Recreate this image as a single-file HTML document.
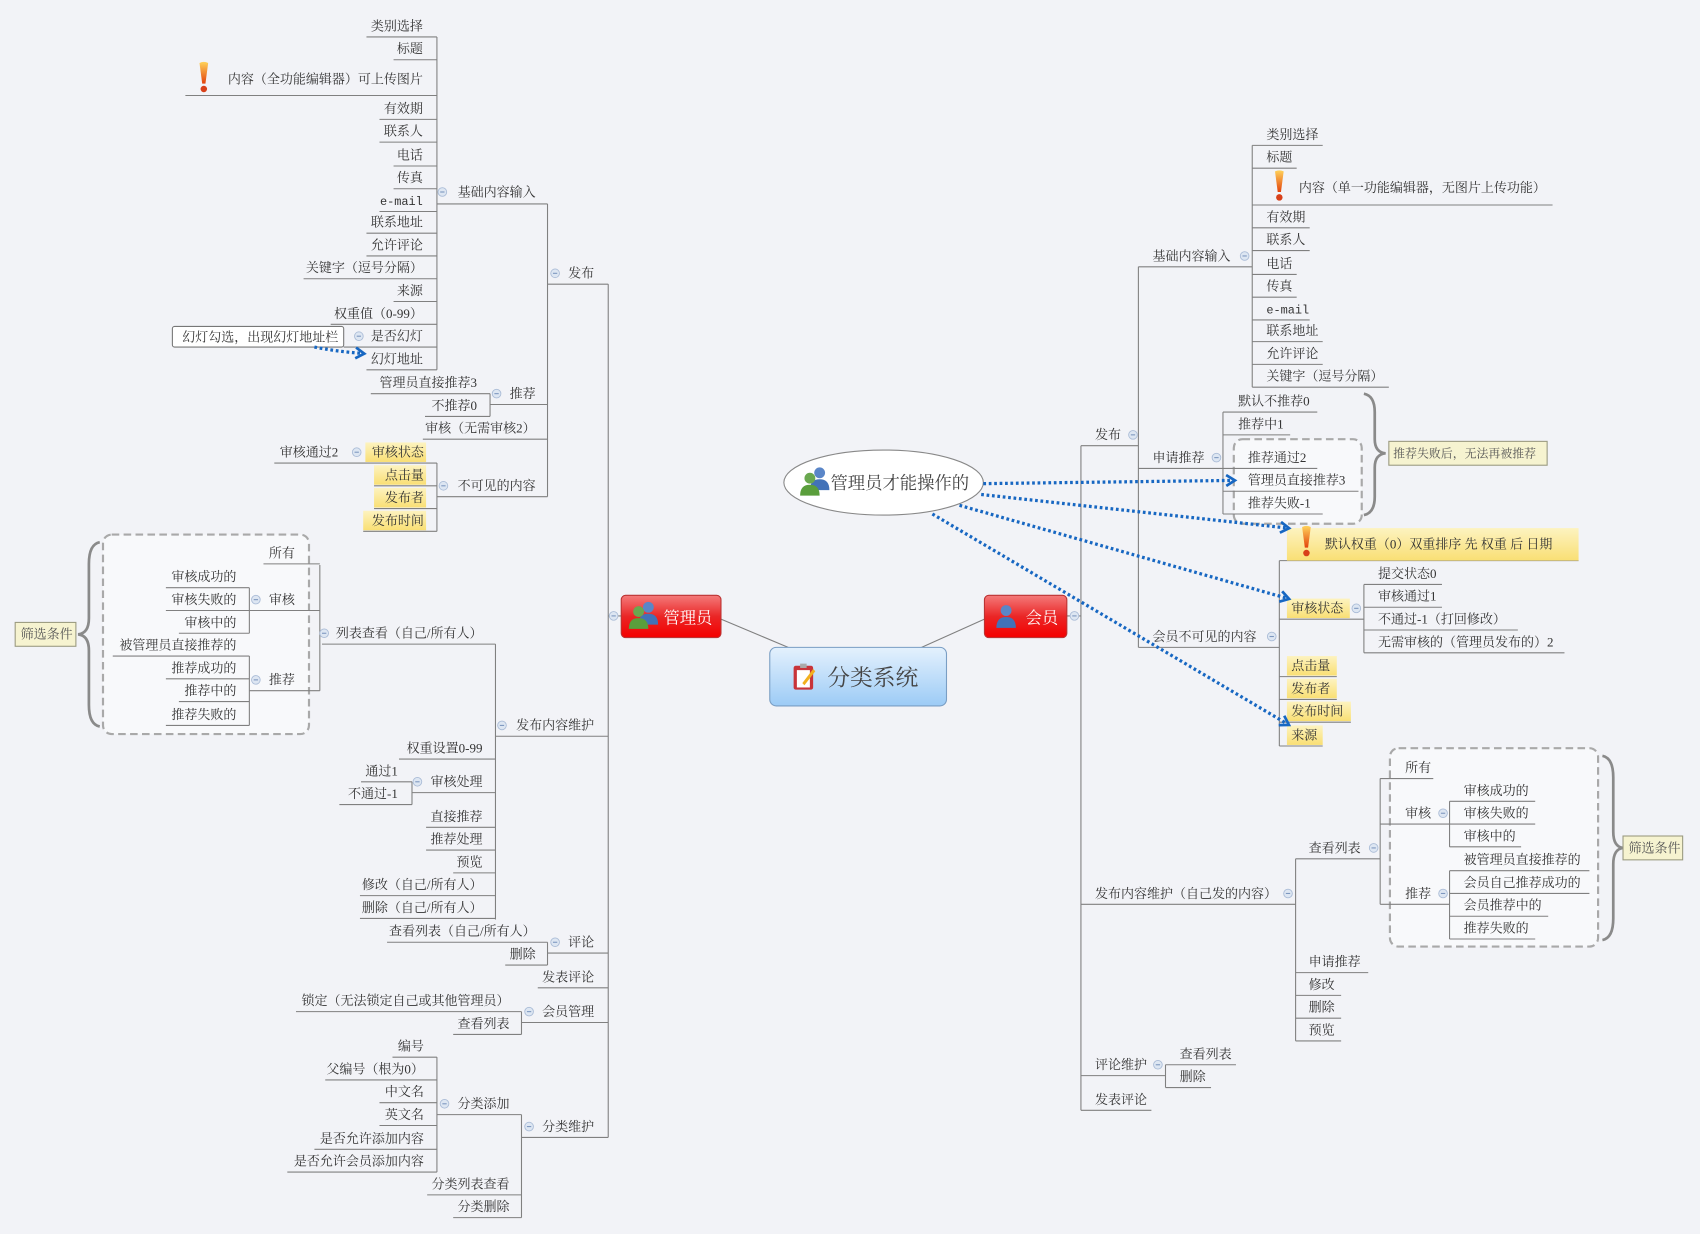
<!DOCTYPE html>
<html><head><meta charset="utf-8"><style>
html,body{margin:0;padding:0;background:#f2f3f7;}
svg{display:block}
text{font-family:"Liberation Serif","Noto Serif CJK SC","Noto Sans CJK SC",serif;font-size:12px;fill:#333}
.e{text-anchor:end}
</style></head><body>
<svg width="1700" height="1234" viewBox="0 0 1568 1138" xmlns="http://www.w3.org/2000/svg">
<defs>
<linearGradient id="red" x1="0" y1="0" x2="0" y2="1"><stop offset="0" stop-color="#f47a7a"/><stop offset="0.5" stop-color="#ea2626"/><stop offset="1" stop-color="#f40000"/></linearGradient>
<linearGradient id="blue" x1="0" y1="0" x2="0" y2="1"><stop offset="0" stop-color="#e4f1fd"/><stop offset="1" stop-color="#9ccbf6"/></linearGradient>
<linearGradient id="yel" x1="0" y1="0" x2="0" y2="1"><stop offset="0" stop-color="#fdf3c0"/><stop offset="1" stop-color="#f9df74"/></linearGradient>
<linearGradient id="ex" x1="0" y1="0" x2="0" y2="1"><stop offset="0" stop-color="#ffd25a"/><stop offset="1" stop-color="#e3420c"/></linearGradient>
<g id="excl"><path d="M-4 -14 Q0 -16 4 -14 L1.5 5 L-1.5 5 Z" fill="url(#ex)"/><circle cx="0" cy="10" r="3" fill="#d8401a"/></g>
<g id="col"><circle r="4" fill="#dde6f2" stroke="#a9bbd6" stroke-width="0.8"/><line x1="-2" y1="0" x2="2" y2="0" stroke="#7d97bf" stroke-width="1"/></g>
<g id="p1"><circle cx="0" cy="-6" r="5" fill="#6aa84f"/><path d="M-9 10 Q-9 0 0 0 Q9 0 9 10 Z" fill="#5a9e3c"/></g>
<g id="p2"><circle cx="0" cy="-6" r="5" fill="#5a86c8"/><path d="M-9 10 Q-9 0 0 0 Q9 0 9 10 Z" fill="#4272b8"/></g>
<marker id="arr" markerWidth="12" markerHeight="12" refX="8" refY="6" orient="auto" markerUnits="userSpaceOnUse"><path d="M1 1 L9 6 L1 11" fill="none" stroke="#1767c2" stroke-width="2.5"/></marker>
</defs>

<rect x="95" y="493" width="190" height="184" rx="8" fill="#f8f9fb" stroke="#a9a9a9" stroke-width="2" stroke-dasharray="7,4"/>
<rect x="1282" y="690" width="192" height="183" rx="8" fill="#f8f9fb" stroke="#a9a9a9" stroke-width="2" stroke-dasharray="7,4"/>
<rect x="1138" y="405" width="118" height="78" rx="8" fill="#f8f9fb" stroke="#a9a9a9" stroke-width="2" stroke-dasharray="7,4"/>

<g fill="none" stroke="#8a8a8a" stroke-width="2.5">
<path d="M92 500 Q82 502 82 520 L82 570 Q82 584 72 585 Q82 586 82 600 L82 650 Q82 668 92 670"/>
<path d="M1478 697 Q1488 699 1488 717 L1488 767 Q1488 781 1497 782 Q1488 783 1488 797 L1488 847 Q1488 865 1478 867"/>
<path d="M1258 363 Q1268 365 1268 380 L1268 405 Q1268 417 1278 418 Q1268 419 1268 431 L1268 458 Q1268 473 1258 475"/>
</g>

<g fill="none" stroke="#808080" stroke-width="1">
<path d="M665 571 L727 597 M908 571 L850 597"/>
<path d="M561 262 V1049 M561 568 H573 M505 262 H561 M505 188 V458 M403 188 H505 M403 34 V341
M338 34 H403 M363 55 H403 M171 88 H403 M350 110 H403 M350 131 H403 M363 153 H403 M363 174 H403 M350 195 H403 M338 215 H403 M338 236 H403 M280 257 H403 M363 278 H403 M305 299 H403 M317 320 H403 M338 341 H403
M452 373 H505 M452 363 V384 M342 363 H452 M392 384 H452 M390 405 H505
M403 458 H505 M403 427 V490 M253 427 H403 M345 448 H403 M345 469 H403 M335 490 H403
M457 679 H561 M457 594 V848 M297 594 H457 M295 521 V637 M243 520 H295 M230 563 H295 M230 542 V584 M153 542 H230 M153 563 H230 M165 584 H230
M230 637 H295 M230 605 V669 M104 605 H230 M153 626 H230 M165 647 H230 M153 669 H230
M368 700 H457 M380 731 H457 M380 721 V742 M333 721 H380 M313 742 H380
M393 763 H457 M393 784 H457 M418 805 H457 M332 826 H457 M332 847 H457
M505 879 H561 M505 869 V890 M357 869 H505 M466 890 H505 M496 911 H561
M481 943 H561 M481 933 V954 M273 933 H481 M418 954 H481
M481 1049 H561 M481 1028 V1123 M403 1028 H481 M403 975 V1081
M362 975 H403 M300 996 H403 M350 1017 H403 M350 1038 H403 M290 1060 H403 M265 1081 H403 M394 1102 H481 M418 1123 H481"/>
<path d="M997 411 V1024 M984 568 H997 M997 411 H1050 M1050 246 V597 M1050 246 H1155 M1155 134 V357
M1155 134 H1220 M1155 155 H1196 M1155 189 H1432 M1155 210 H1208 M1155 231 H1208 M1155 253 H1196 M1155 274 H1196 M1155 295 H1208 M1155 315 H1220 M1155 336 H1220 M1155 357 H1281
M1050 432 H1128 M1128 380 V474 M1128 380 H1215 M1128 401 H1190 M1128 432 H1215 M1128 453 H1253 M1128 474 H1220
M1050 597 H1180 M1180 517 V688 M1180 517 H1456 M1180 571 H1258 M1258 539 V602 M1258 539 H1330 M1258 560 H1330 M1258 581 H1400 M1258 602 H1443
M1180 624 H1233 M1180 645 H1233 M1180 666 H1246 M1180 688 H1220
M997 834 H1195 M1195 792 V960 M1195 792 H1273 M1273 718 V834 M1273 718 H1322 M1273 760 H1337 M1337 739 V781 M1337 739 H1416 M1337 760 H1416 M1337 781 H1403
M1273 834 H1337 M1337 803 V866 M1337 803 H1466 M1337 824 H1466 M1337 845 H1428 M1337 866 H1416
M1195 897 H1262 M1195 918 H1237 M1195 939 H1237 M1195 960 H1237
M997 992 H1075 M1075 982 V1003 M1075 982 H1140 M1075 1003 H1117 M997 1024 H1062"/>
</g>

<g fill="url(#yel)">
<rect x="337" y="408" width="56" height="18"/><rect x="345" y="429" width="48" height="18"/><rect x="345" y="450" width="48" height="18"/><rect x="335" y="471" width="58" height="18"/>
<rect x="1187" y="487" width="269" height="30"/>
<rect x="1187" y="552" width="58" height="18"/><rect x="1187" y="605" width="46" height="18"/><rect x="1187" y="626" width="46" height="18"/><rect x="1187" y="647" width="59" height="18"/><rect x="1187" y="669" width="33" height="18"/>
</g>

<rect x="159" y="301" width="158" height="19" rx="2" fill="#fff" stroke="#777"/>
<rect x="14" y="574" width="56" height="22" fill="#f6f3d0" stroke="#9a9a80"/>
<rect x="1497" y="771" width="55" height="22" fill="#f6f3d0" stroke="#9a9a80"/>
<rect x="1281" y="407" width="146" height="22" fill="#f6f3d0" stroke="#9a9a80"/>

<rect x="573" y="549" width="92" height="39" rx="4" fill="url(#red)" stroke="#b33" />
<rect x="908" y="549" width="76" height="39" rx="4" fill="url(#red)" stroke="#b33"/>
<rect x="710" y="597" width="163" height="54" rx="6" fill="url(#blue)" stroke="#7a9ec4"/>
<ellipse cx="815" cy="445" rx="92" ry="30" fill="#fff" stroke="#888"/>
<use href="#p2" x="598" y="566"/><use href="#p1" x="589" y="570"/>
<use href="#p2" x="928" y="569"/>
<use href="#p2" x="756" y="442"/><use href="#p1" x="747" y="447"/>
<g transform="translate(742,625)"><rect x="-10" y="-11" width="18" height="22" rx="2" fill="#c8343a"/><rect x="-7" y="-7" width="12" height="16" fill="#fff"/><rect x="-4" y="-13" width="6" height="4" fill="#aaa"/><path d="M-2 5 L8 -8 L10 -6 L0 7 Z" fill="#f2b01e"/></g>
<text x="612" y="575" style="font-size:15px;fill:#fff">管理员</text>
<text x="946" y="575" style="font-size:15px;fill:#fff">会员</text>
<text x="763" y="632" style="font-size:21px;fill:#444">分类系统</text>
<text x="766" y="451" style="font-size:16px;fill:#444">管理员才能操作的</text>

<use href="#excl" x="188" y="72"/><use href="#excl" x="1180" y="172"/><use href="#excl" x="1205" y="500"/>

<use href="#col" x="566" y="568"/><use href="#col" x="512" y="252"/><use href="#col" x="408" y="177"/><use href="#col" x="458" y="363"/><use href="#col" x="409" y="448"/><use href="#col" x="331" y="310"/><use href="#col" x="329" y="417"/><use href="#col" x="463" y="669"/><use href="#col" x="299" y="584"/><use href="#col" x="236" y="553"/><use href="#col" x="236" y="627"/><use href="#col" x="385" y="721"/><use href="#col" x="512" y="869"/><use href="#col" x="488" y="933"/><use href="#col" x="488" y="1039"/><use href="#col" x="410" y="1018"/>
<use href="#col" x="991" y="568"/><use href="#col" x="1045" y="401"/><use href="#col" x="1148" y="236"/><use href="#col" x="1122" y="422"/><use href="#col" x="1173" y="587"/><use href="#col" x="1251" y="561"/><use href="#col" x="1188" y="824"/><use href="#col" x="1267" y="782"/><use href="#col" x="1331" y="750"/><use href="#col" x="1331" y="824"/><use href="#col" x="1068" y="982"/>

<g fill="none" stroke="#1767c2" stroke-width="3" stroke-dasharray="2.5,2.5" marker-end="url(#arr)">
<path d="M907 446 L1138 443"/>
<path d="M905 456 L1188 487"/>
<path d="M885 466 L1188 552"/>
<path d="M860 474 L1188 668"/>
<path d="M290 320 Q310 324 335 326"/>
</g>

<g class="e">
<text class="e" x="548" y="256">发布</text>
<text class="e" x="494" y="181">基础内容输入</text>
<text class="e" x="390" y="28">类别选择</text>
<text class="e" x="390" y="49">标题</text>
<text class="e" x="390" y="77">内容（全功能编辑器）可上传图片</text>
<text class="e" x="390" y="104">有效期</text>
<text class="e" x="390" y="125">联系人</text>
<text class="e" x="390" y="147">电话</text>
<text class="e" x="390" y="168">传真</text>
<text class="e" x="390" y="189" style="font-family:'Liberation Mono',monospace;font-size:11px">e-mail</text>
<text class="e" x="390" y="209">联系地址</text>
<text class="e" x="390" y="230">允许评论</text>
<text class="e" x="390" y="251">关键字（逗号分隔）</text>
<text class="e" x="390" y="272">来源</text>
<text class="e" x="390" y="293">权重值（0-99）</text>
<text class="e" x="390" y="314">是否幻灯</text>
<text class="e" x="390" y="335">幻灯地址</text>
<text class="e" x="312" y="315">幻灯勾选，出现幻灯地址栏</text>
<text class="e" x="494" y="367">推荐</text>
<text class="e" x="440" y="357">管理员直接推荐3</text>
<text class="e" x="440" y="378">不推荐0</text>
<text class="e" x="494" y="399">审核（无需审核2）</text>
<text class="e" x="494" y="452">不可见的内容</text>
<text class="e" x="391" y="421">审核状态</text>
<text class="e" x="312" y="421">审核通过2</text>
<text class="e" x="391" y="442">点击量</text>
<text class="e" x="391" y="463">发布者</text>
<text class="e" x="391" y="484">发布时间</text>
<text class="e" x="548" y="673">发布内容维护</text>
<text class="e" x="445" y="588">列表查看（自己/所有人）</text>
<text class="e" x="272" y="514">所有</text>
<text class="e" x="272" y="557">审核</text>
<text class="e" x="218" y="536">审核成功的</text>
<text class="e" x="218" y="557">审核失败的</text>
<text class="e" x="218" y="578">审核中的</text>
<text class="e" x="272" y="631">推荐</text>
<text class="e" x="218" y="599">被管理员直接推荐的</text>
<text class="e" x="218" y="620">推荐成功的</text>
<text class="e" x="218" y="641">推荐中的</text>
<text class="e" x="218" y="663">推荐失败的</text>
<text class="e" x="445" y="694">权重设置0-99</text>
<text class="e" x="445" y="725">审核处理</text>
<text class="e" x="367" y="715">通过1</text>
<text class="e" x="367" y="736">不通过-1</text>
<text class="e" x="445" y="757">直接推荐</text>
<text class="e" x="445" y="778">推荐处理</text>
<text class="e" x="445" y="799">预览</text>
<text class="e" x="445" y="820">修改（自己/所有人）</text>
<text class="e" x="445" y="841">删除（自己/所有人）</text>
<text class="e" x="548" y="873">评论</text>
<text class="e" x="494" y="863">查看列表（自己/所有人）</text>
<text class="e" x="494" y="884">删除</text>
<text class="e" x="548" y="905">发表评论</text>
<text class="e" x="548" y="937">会员管理</text>
<text class="e" x="470" y="927">锁定（无法锁定自己或其他管理员）</text>
<text class="e" x="470" y="948">查看列表</text>
<text class="e" x="548" y="1043">分类维护</text>
<text class="e" x="470" y="1022">分类添加</text>
<text class="e" x="391" y="969">编号</text>
<text class="e" x="391" y="990">父编号（根为0）</text>
<text class="e" x="391" y="1011">中文名</text>
<text class="e" x="391" y="1032">英文名</text>
<text class="e" x="391" y="1054">是否允许添加内容</text>
<text class="e" x="391" y="1075">是否允许会员添加内容</text>
<text class="e" x="470" y="1096">分类列表查看</text>
<text class="e" x="470" y="1117">分类删除</text>
</g>
<text x="19" y="589" style="text-anchor:start;fill:#555">筛选条件</text>

<text x="1010" y="405">发布</text>
<text x="1063" y="240">基础内容输入</text>
<text x="1168" y="128">类别选择</text>
<text x="1168" y="149">标题</text>
<text x="1198" y="177">内容（单一功能编辑器，无图片上传功能）</text>
<text x="1168" y="204">有效期</text>
<text x="1168" y="225">联系人</text>
<text x="1168" y="247">电话</text>
<text x="1168" y="268">传真</text>
<text x="1168" y="289" style="font-family:'Liberation Mono',monospace;font-size:11px">e-mail</text>
<text x="1168" y="309">联系地址</text>
<text x="1168" y="330">允许评论</text>
<text x="1168" y="351">关键字（逗号分隔）</text>
<text x="1063" y="426">申请推荐</text>
<text x="1142" y="374">默认不推荐0</text>
<text x="1142" y="395">推荐中1</text>
<text x="1151" y="426">推荐通过2</text>
<text x="1151" y="447">管理员直接推荐3</text>
<text x="1151" y="468">推荐失败-1</text>
<text x="1285" y="422" style="font-size:11px;fill:#555">推荐失败后，无法再被推荐</text>
<text x="1063" y="591">会员不可见的内容</text>
<text x="1222" y="506">默认权重（0）双重排序 先 权重 后 日期</text>
<text x="1191" y="565">审核状态</text>
<text x="1271" y="533">提交状态0</text>
<text x="1271" y="554">审核通过1</text>
<text x="1271" y="575">不通过-1（打回修改）</text>
<text x="1271" y="596">无需审核的（管理员发布的）2</text>
<text x="1191" y="618">点击量</text>
<text x="1191" y="639">发布者</text>
<text x="1191" y="660">发布时间</text>
<text x="1191" y="682">来源</text>
<text x="1010" y="828">发布内容维护（自己发的内容）</text>
<text x="1207" y="786">查看列表</text>
<text x="1296" y="712">所有</text>
<text x="1296" y="754">审核</text>
<text x="1350" y="733">审核成功的</text>
<text x="1350" y="754">审核失败的</text>
<text x="1350" y="775">审核中的</text>
<text x="1296" y="828">推荐</text>
<text x="1350" y="797">被管理员直接推荐的</text>
<text x="1350" y="818">会员自己推荐成功的</text>
<text x="1350" y="839">会员推荐中的</text>
<text x="1350" y="860">推荐失败的</text>
<text x="1502" y="786" style="fill:#555">筛选条件</text>
<text x="1207" y="891">申请推荐</text>
<text x="1207" y="912">修改</text>
<text x="1207" y="933">删除</text>
<text x="1207" y="954">预览</text>
<text x="1010" y="986">评论维护</text>
<text x="1088" y="976">查看列表</text>
<text x="1088" y="997">删除</text>
<text x="1010" y="1018">发表评论</text>
</svg>
</body></html>
